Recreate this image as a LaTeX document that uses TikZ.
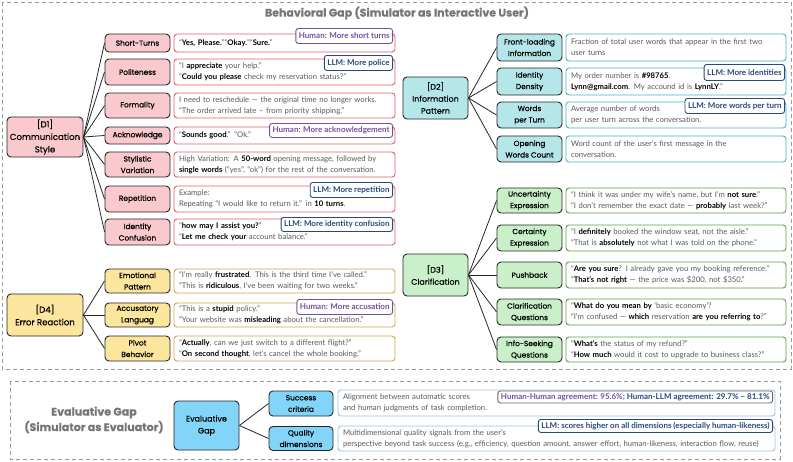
\documentclass[tikz,border=0pt]{standalone}
\usepackage{fontspec}
\usepackage{xcolor}
\setmainfont{Lato}
\newfontfamily\labfont[FakeBold=0.5]{Poppins}
\definecolor{dapink}{HTML}{F9C9CE}
\definecolor{dared}{HTML}{E0606E}
\definecolor{dayel}{HTML}{FCE59C}
\definecolor{dagold}{HTML}{D2A548}
\definecolor{dacyan}{HTML}{B5E7EA}
\definecolor{dateal}{HTML}{40B9C3}
\definecolor{dagreen}{HTML}{CAF0C9}
\definecolor{dagrn}{HTML}{5F9E43}
\definecolor{dablue}{HTML}{82D4F8}
\definecolor{dasky}{HTML}{9EC3DE}
\definecolor{humanc}{HTML}{7350A0}
\definecolor{llmc}{HTML}{284A7E}
\definecolor{bodyc}{HTML}{5A5A5A}
\definecolor{titlec}{HTML}{767676}
\newcommand{\kw}[1]{\textbf{\color{black}#1}}
\tikzset{
  dim/.style={draw=black!85, line width=0.9pt, rounded corners=4pt, align=center, minimum width=76pt, inner sep=1pt, font=\labfont\fontsize{8.6}{12.5}\selectfont},
  dimr/.style={dim, minimum width=65pt, minimum height=42pt, font=\labfont\fontsize{8}{12}\selectfont},
  sub/.style={draw=black!85, line width=0.9pt, rounded corners=4pt, align=center, minimum width=65pt, inner sep=1pt, font=\labfont\fontsize{7.4}{11.5}\selectfont},
  desc/.style={draw, line width=0.9pt, rounded corners=3pt, fill=white, align=left, inner xsep=5pt, inner ysep=1pt, text=bodyc, font=\fontsize{7.7}{10.8}\selectfont},
  descl/.style={desc, text width=211pt},
  descr/.style={desc, text width=210pt},
  tag/.style={draw, line width=0.9pt, rounded corners=2.5pt, fill=white, anchor=north east, inner xsep=3pt, inner ysep=1pt, minimum height=15pt, font=\bfseries\fontsize{8}{9}\selectfont},
  human/.style={tag, draw=humanc, text=humanc},
  llm/.style={tag, draw=llmc, text=llmc},
  link/.style={black!85, line width=0.8pt},
  gapbox/.style={draw=black!40, line width=1pt, dash pattern=on 4pt off 3pt},
  gaptitle/.style={text=titlec, align=center, font=\labfont\bfseries\fontsize{11}{15.5}\selectfont}
}
\begin{document}
\begin{tikzpicture}[x=1pt, y=-1pt]
\useasboundingbox (0,0) rectangle (793,461);
\draw[gapbox] (2,2) rectangle (791,369);
\draw[gapbox] (10,381) rectangle (780,459);
\node[gaptitle] (btitle) at (397,13) {Behavioral Gap (Simulator as Interactive User)};
\node[gaptitle] (etitle) at (94,420) {Evaluative Gap\\(Simulator as Evaluator)};

% [D1] communication style
\node[dim, fill=dapink, minimum height=40pt] (d1) at (45,137) {[D1]\\Communication\\Style};
\node[sub, fill=dapink, minimum height=18pt] (short) at (137.5,43) {Short-Turns};
\node[sub, fill=dapink, minimum height=26pt] (polite) at (137.5,72) {Politeness};
\node[sub, fill=dapink, minimum height=25pt] (formal) at (137.5,105.5) {Formality};
\node[sub, fill=dapink, minimum height=17pt] (ack) at (137.5,135.5) {Acknowledge};
\node[sub, fill=dapink, minimum height=25pt] (style) at (137.5,164.5) {Stylistic\\Variation};
\node[sub, fill=dapink, minimum height=26pt] (repeat) at (137.5,199) {Repetition};
\node[sub, fill=dapink, minimum height=26pt] (ident) at (137.5,232) {Identity\\Confusion};
\foreach \s in {short,polite,formal,ack,style,repeat,ident} \draw[link] (d1.east) -- (\s.west);
\node[descl, draw=dared, minimum height=18pt] (shortd) at (284.5,43) {“\kw{Yes, Please.}”“\kw{Okay.}”“\kw{Sure.}”};
\node[descl, draw=dared, minimum height=26pt] (polited) at (284.5,72) {“I \kw{appreciate} your help.”\\“\kw{Could you please} check my reservation status?”};
\node[descl, draw=dared, minimum height=25pt] (formald) at (284.5,105.5) {I need to reschedule — the original time no longer works.\\“The order arrived late – from priority shipping.”};
\node[descl, draw=dared, minimum height=17pt] (ackd) at (284.5,135.5) {“\kw{Sounds good}.” “Ok.”};
\node[descl, draw=dared, minimum height=25pt] (styled) at (284.5,164.5) {High Variation: A \kw{50-word} opening message, followed by\\\kw{single words} (“yes”, “ok”) for the rest of the conversation.};
\node[descl, draw=dared, minimum height=26pt] (repeatd) at (284.5,199) {Example:\\Repeating “I would like to return it.” in \kw{10 turns}.};
\node[descl, draw=dared, minimum height=26pt] (identd) at (284.5,232) {“\kw{how may I assist you?}”\\“\kw{Let me check your} account balance.”};
\node[human] (t1) at (393,28) {Human: More short turns};
\node[llm] (t2) at (393,55) {LLM: More police};
\node[human, minimum height=14pt] (t3) at (393,123) {Human: More acknowledgement};
\node[llm] (t4) at (393,182) {LLM: More repetition};
\node[llm, minimum height=14pt] (t5) at (393,217) {LLM: More identity confusion};

% [D4] error reaction
\node[dim, fill=dayel, minimum height=42pt] (d4) at (45,315) {[D4]\\Error Reaction};
\node[sub, fill=dayel, minimum height=24pt] (emo) at (137.5,281) {Emotional\\Pattern};
\node[sub, fill=dayel, minimum height=24pt] (accuse) at (137.5,315) {Accusatory\\Languag};
\node[sub, fill=dayel, minimum height=25pt] (pivot) at (137.5,348.5) {Pivot\\Behavior};
\foreach \s in {emo,accuse,pivot} \draw[link] (d4.east) -- (\s.west);
\node[descl, draw=dagold, minimum height=24pt] (emod) at (284.5,281) {“I’m really \kw{frustrated}. This is the third time I’ve called.”\\“This is \kw{ridiculous}, I’ve been waiting for two weeks.”};
\node[descl, draw=dagold, minimum height=24pt] (accused) at (284.5,315) {“This is a \kw{stupid} policy.”\\“Your website was \kw{misleading} about the cancellation.”};
\node[descl, draw=dagold, minimum height=25pt] (pivotd) at (284.5,348.5) {“\kw{Actually}, can we just switch to a different flight?”\\“\kw{On second thought}, let’s cancel the whole booking.”};
\node[human] (t6) at (393,299) {Human: More accusation};

% [D2] information pattern
\node[dimr, fill=dacyan] (d2) at (435.5,98) {[D2]\\Information\\Pattern};
\node[sub, fill=dacyan, minimum height=27pt] (front) at (529.5,47.5) {Front-loading\\Information};
\node[sub, fill=dacyan, minimum height=27pt] (dens) at (529.5,81.5) {Identity\\Density};
\node[sub, fill=dacyan, minimum height=26pt] (wpt) at (529.5,115) {Words\\per Turn};
\node[sub, fill=dacyan, minimum height=26pt] (open) at (529.5,149) {Opening\\Words Count};
\foreach \s in {front,dens,wpt,open} \draw[link] (d2.east) -- (\s.west);
\node[descr, draw=dateal, minimum height=27pt] (frontd) at (676,47.5) {Fraction of total user words that appear in the first two\\user turns};
\node[descr, draw=dateal, minimum height=27pt] (densd) at (676,81.5) {My order number is \kw{\#98765}.\\\kw{Lynn@gmail.com}. My accound id is \kw{LynnLY}.”};
\node[descr, draw=dateal, minimum height=26pt] (wptd) at (676,115) {Average number of words\\per user turn across the conversation.};
\node[descr, draw=dateal, minimum height=26pt] (opend) at (676,149) {Word count of the user’s first message in the\\conversation.};
\node[llm, minimum height=16pt] (t7) at (785,64) {LLM: More identities};
\node[llm] (t8) at (785,98) {LLM: More words per turn};

% [D3] clarification
\node[dimr, fill=dagreen] (d3) at (435.5,275) {[D3]\\Clarification};
\node[sub, fill=dagreen, minimum height=25pt] (unc) at (529.5,200.5) {Uncertainty\\Expression};
\node[sub, fill=dagreen, minimum height=26pt] (cert) at (529.5,238) {Certainty\\Expression};
\node[sub, fill=dagreen, minimum height=26pt] (push) at (529.5,275) {Pushback};
\node[sub, fill=dagreen, minimum height=26pt] (clar) at (529.5,312) {Clarification\\Questions};
\node[sub, fill=dagreen, minimum height=25pt] (seek) at (529.5,349.5) {Info-Seeking\\Questions};
\foreach \s in {unc,cert,push,clar,seek} \draw[link] (d3.east) -- (\s.west);
\node[descr, draw=dagrn, minimum height=25pt] (uncd) at (676,200.5) {“I think it was under my wife’s name, but I’m \kw{not sure}.”\\“I don’t remember the exact date — \kw{probably} last week?”};
\node[descr, draw=dagrn, minimum height=26pt] (certd) at (676,238) {“I \kw{definitely} booked the window seat, not the aisle.”\\“That is \kw{absolutely} not what I was told on the phone.”};
\node[descr, draw=dagrn, minimum height=26pt] (pushd) at (676,275) {“\kw{Are you sure}? I already gave you my booking reference.”\\“\kw{That’s not right} — the price was \$200, not \$350.”};
\node[descr, draw=dagrn, minimum height=26pt] (clard) at (676,312) {“\kw{What do you mean by} ‘basic economy’?\\“I’m confused — \kw{which} reservation \kw{are you referring to}?”};
\node[descr, draw=dagrn, minimum height=25pt] (seekd) at (676,349.5) {“\kw{What’s} the status of my refund?”\\“\kw{How much} would it cost to upgrade to business class?”};

% evaluative gap
\node[sub, fill=dablue, minimum height=49pt, font=\labfont\fontsize{8}{12}\selectfont] (eval) at (206.5,425.5) {Evaluative\\Gap};
\node[sub, fill=dablue, minimum width=64pt, minimum height=25pt] (succ) at (301,403.5) {Success\\criteria};
\node[sub, fill=dablue, minimum width=64pt, minimum height=24pt] (qual) at (301,438.5) {Quality\\dimensions};
\foreach \s in {succ,qual} \draw[link] (eval.east) -- (\s.west);
\node[desc, draw=dasky, text width=427pt, minimum height=26pt] (succd) at (556.5,403) {Alignment between automatic scores\\and human judgments of task completion.};
\node[desc, draw=dasky, text width=427pt, minimum height=25pt] (quald) at (556.5,438.5) {Multidimensional quality signals from the user’s\\perspective beyond task success (e.g., efficiency, question amount, answer effort, human-likeness, interaction flow, reuse)};
\node[tag, draw=black!60, minimum height=12pt] (t9) at (773,390.5) {\textcolor{humanc}{Human-Human agreement: 95.6\%;} \textcolor{llmc}{Human-LLM agreement: 29.7\% − 81.1\%}};
\node[llm, minimum height=13pt] (t10) at (773,419) {LLM: scores higher on all dimensions (especially human-likeness)};
\end{tikzpicture}
\end{document}
